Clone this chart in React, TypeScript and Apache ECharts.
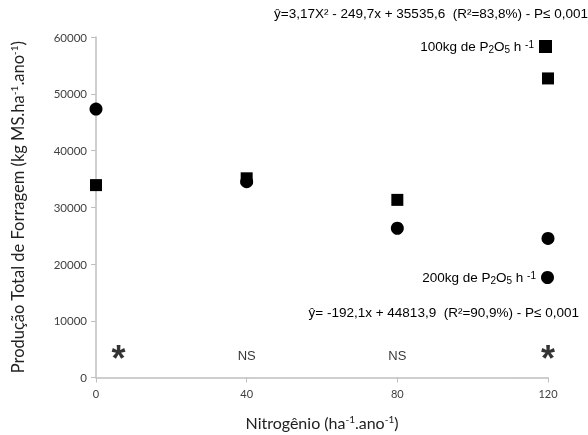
import React, { useEffect, useRef } from "react";
import * as echarts from "echarts";

const xTicks = [0, 40, 80, 120];
const p100Name = "100kg";
const p200Name = "200kg";
const p100Data: [number, number][] = [
  [0, 33900],
  [40, 35100],
  [80, 31300],
  [120, 52700],
];
const p200Data: [number, number][] = [
  [0, 47300],
  [40, 34500],
  [80, 26300],
  [120, 24500],
];
const annotations: [number, number, string][] = [
  [6, 3800, "*"],
  [40, 3800, "NS"],
  [80, 3800, "NS"],
  [120, 3800, "*"],
];
const eqTop = "ŷ=3,17X² - 249,7x + 35535,6  (R²=83,8%) - P≤ 0,001";
const eqBottom = "ŷ= -192,1x + 44813,9  (R²=90,9%) - P≤ 0,001";

const legendRich = {
  t: { fontFamily: "Liberation Sans", fontSize: 13.5, color: "#000" },
  sub: { fontFamily: "Liberation Sans", fontSize: 10, color: "#000", verticalAlign: "bottom", padding: [5, 0, 0, 0] },
  sup: { fontFamily: "Liberation Sans", fontSize: 10, color: "#000", verticalAlign: "top", padding: [0, 0, 5, 0] },
};
const legendFmt = (name: string) =>
  (name === p100Name ? "{t|100kg de P}" : "{t|200kg de P}") + "{sub|2}{t|O}{sub|5}{t| h }{sup|-1}";

export default function App() {
  const ref = useRef<HTMLDivElement>(null);
  useEffect(() => {
    if (!ref.current) return;
    const chart = echarts.init(ref.current, undefined, { renderer: "svg" });
    const axisLabelFont = { fontFamily: "Lato", fontSize: 11, color: "#404040" };
    chart.setOption({
      animation: false,
      grid: { left: 96, right: 40, top: 37, bottom: 53 },
      xAxis: {
        type: "value",
        min: 0,
        max: 120,
        interval: 40,
        splitLine: { show: false },
        axisLine: { lineStyle: { color: "#bfbfbf", width: 1.5 } },
        axisTick: { show: true, lineStyle: { color: "#bfbfbf" }, length: 5 },
        axisLabel: { ...axisLabelFont, margin: 10, formatter: (v: number) => (xTicks.includes(v) ? String(v) : "") },
        name: "{n|Nitrogênio (ha}{s|-1}{n|.ano}{s|-1}{n|)}",
        nameLocation: "middle",
        nameGap: 36,
        nameTextStyle: {
          rich: {
            n: { fontFamily: "Lato", fontSize: 16, color: "#222" },
            s: { fontFamily: "Lato", fontSize: 10, color: "#222", verticalAlign: "top", padding: [0, 0, 7, 0] },
          },
        },
      },
      yAxis: {
        type: "value",
        min: 0,
        max: 60000,
        interval: 10000,
        splitLine: { show: false },
        axisLine: { show: true, lineStyle: { color: "#bfbfbf", width: 1.5 } },
        axisTick: { show: true, lineStyle: { color: "#bfbfbf" }, length: 5 },
        axisLabel: { ...axisLabelFont, fontSize: 11.5, margin: 9, formatter: (v: number) => String(v) },
        name: "{n|Produção Total de Forragem (kg MS.ha}{s|-1}{n|.ano}{s|-1}{n|)}",
        nameLocation: "middle",
        nameGap: 70,
        nameRotate: 90,
        nameTextStyle: {
          rich: {
            n: { fontFamily: "Lato", fontSize: 16.5, color: "#222" },
            s: { fontFamily: "Lato", fontSize: 10, color: "#222", verticalAlign: "top", padding: [0, 0, 7, 0] },
          },
        },
      },
      legend: [
        {
          data: [{ name: p100Name, icon: "rect" }],
          right: 31,
          top: 34,
          align: "right",
          itemWidth: 13,
          itemHeight: 13,
          itemGap: 0,
          formatter: legendFmt,
          textStyle: { rich: legendRich },
          selectedMode: false,
        },
        {
          data: [{ name: p200Name, icon: "circle" }],
          right: 29,
          top: 265,
          align: "right",
          itemWidth: 13,
          itemHeight: 13,
          itemGap: 0,
          formatter: legendFmt,
          textStyle: { rich: legendRich },
          selectedMode: false,
        },
      ],
      graphic: [
        {
          type: "text",
          x: 588,
          y: 13,
          style: { text: eqTop, fontFamily: "Liberation Sans", fontSize: 13.5, fill: "#000", align: "right", verticalAlign: "middle" },
        },
        {
          type: "text",
          x: 579,
          y: 312,
          style: { text: eqBottom, fontFamily: "Liberation Sans", fontSize: 13.5, fill: "#000", align: "right", verticalAlign: "middle" },
        },
      ],
      series: [
        {
          name: p200Name,
          type: "scatter",
          symbol: "circle",
          symbolSize: 13,
          itemStyle: { color: "#000", opacity: 1 },
          data: p200Data,
          z: 2,
        },
        {
          name: p100Name,
          type: "scatter",
          symbol: "rect",
          symbolSize: 12,
          itemStyle: { color: "#000", opacity: 1 },
          data: p100Data,
          z: 3,
        },
        {
          name: "annot",
          type: "scatter",
          symbolSize: 0,
          silent: true,
          data: annotations,
          label: {
            show: true,
            position: "inside",
            formatter: (p: any) => (p.value[2] === "*" ? "{star|*}" : "{ns|NS}"),
            rich: {
              star: { fontFamily: "Liberation Sans", fontSize: 36, fontWeight: "bold", color: "#000", padding: [6, 0, 0, 0] },
              ns: { fontFamily: "Liberation Sans", fontSize: 13, color: "#000" },
            },
          },
        },
      ],
    });
    return () => chart.dispose();
  }, []);
  return <div ref={ref} style={{ position: "fixed", left: 0, top: 0, width: 588, height: 435 }} />;
}
